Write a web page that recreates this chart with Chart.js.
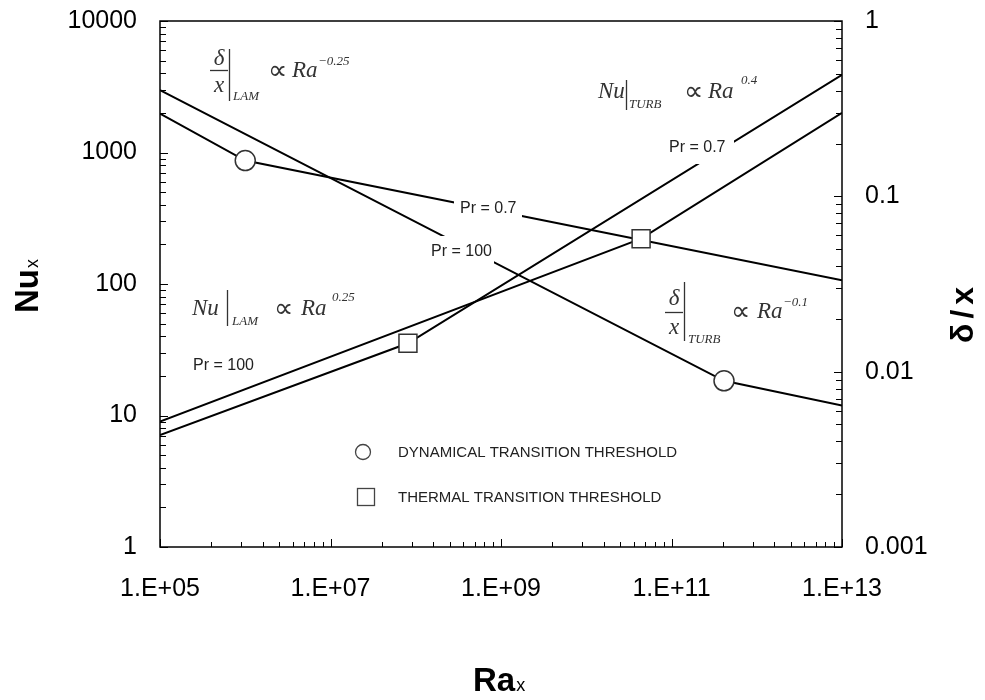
<!DOCTYPE html>
<html>
<head>
<meta charset="utf-8">
<script src="https://cdn.jsdelivr.net/npm/chart.js@4.4.1/dist/chart.umd.min.js"></script>
<style>
  html, body { margin: 0; padding: 0; background: #fff; }
</style>
</head>
<body>
<canvas id="chart" width="985" height="700"></canvas>
<script>
// Nu_x curves: start, thermal transition, end
const raNuPr100 = [1e5, 4.4e10, 1e13];
const nuPr100 = [9.0, 221, 2000];
const raNuPr07 = [1e5, 8.1e7, 1e13];
const nuPr07 = [7.1, 35.4, 3900];

// delta/x curves: start, dynamical transition, end
const raDeltaPr07 = [1e5, 1.0e6, 1e13];
const deltaPr07 = [0.2965, 0.160, 0.0332];
const raDeltaPr100 = [1e5, 4.13e11, 1e13];
const deltaPr100 = [0.403, 0.00887, 0.00641];

// transition thresholds = middle point of each curve
const thermalRa = [raNuPr07[1], raNuPr100[1]];
const thermalNu = [nuPr07[1], nuPr100[1]];
const dynamicalRa = [raDeltaPr07[1], raDeltaPr100[1]];
const dynamicalDelta = [deltaPr07[1], deltaPr100[1]];

const xTicks = [1e5, 1e7, 1e9, 1e11, 1e13];
const xTickLabels = ['1.E+05', '1.E+07', '1.E+09', '1.E+11', '1.E+13'];
const nuTicks = [1, 10, 100, 1000, 10000];
const nuTickLabels = ['1', '10', '100', '1000', '10000'];
const deltaTicks = [0.001, 0.01, 0.1, 1];
const deltaTickLabels = ['0.001', '0.01', '0.1', '1'];

const SANS = '"Liberation Sans", Arial, sans-serif';
const SERIF = '"Liberation Serif", "Times New Roman", serif';
const INK = '#333';

function pts(xs, ys) {
  return xs.map((x, i) => ({ x: x, y: ys[i] }));
}

const lineStyle = {
  borderColor: '#000', borderWidth: 2, pointRadius: 0,
  fill: false, tension: 0, order: 2
};

// inward tick marks and the box round the plot
const framePlugin = {
  id: 'frame',
  afterDatasetsDraw(chart) {
    const ctx = chart.ctx;
    const a = chart.chartArea;
    const sx = chart.scales.x, sy = chart.scales.y, sy2 = chart.scales.y2;
    ctx.save();
    ctx.strokeStyle = '#000';
    ctx.lineWidth = 1;
    ctx.beginPath();
    // x axis: a major every two decades, eight minors in between
    for (let i = 0; i < xTicks.length; i++) {
      const px = Math.round(sx.getPixelForValue(xTicks[i])) + 0.5;
      ctx.moveTo(px, a.bottom); ctx.lineTo(px, a.bottom - 8);
      if (i < xTicks.length - 1) {
        for (let k = 2; k <= 9; k++) {
          const m = Math.round(sx.getPixelForValue(xTicks[i] * k * k)) + 0.5;
          ctx.moveTo(m, a.bottom); ctx.lineTo(m, a.bottom - 5);
        }
      }
    }
    // y axes: decades with 2..9 minors
    [[sy, nuTicks, a.left, 1], [sy2, deltaTicks, a.right, -1]].forEach(([s, t, edge, dir]) => {
      for (let i = 0; i < t.length; i++) {
        const py = Math.round(s.getPixelForValue(t[i])) + 0.5;
        ctx.moveTo(edge, py); ctx.lineTo(edge + dir * 8, py);
        if (i < t.length - 1) {
          for (let k = 2; k <= 9; k++) {
            const m = Math.round(s.getPixelForValue(t[i] * k)) + 0.5;
            ctx.moveTo(edge, m); ctx.lineTo(edge + dir * 6, m);
          }
        }
      }
    });
    ctx.stroke();
    ctx.lineWidth = 1.5;
    ctx.strokeRect(a.left, a.top, a.right - a.left, a.bottom - a.top);
    ctx.restore();
  }
};

function put(ctx, s, x, y, font, align) {
  ctx.font = font;
  ctx.textAlign = align || 'left';
  ctx.fillText(s, x, y);
}

function vbar(ctx, x, y0, y1) {
  ctx.beginPath(); ctx.moveTo(x, y0); ctx.lineTo(x, y1); ctx.stroke();
}

function hbar(ctx, x0, x1, y) {
  ctx.beginPath(); ctx.moveTo(x0, y); ctx.lineTo(x1, y); ctx.stroke();
}

// formulas, Pr labels, legend and axis titles
const notesPlugin = {
  id: 'notes',
  afterDraw(chart) {
    const ctx = chart.ctx;
    ctx.save();
    ctx.textBaseline = 'alphabetic';
    ctx.fillStyle = INK;
    ctx.strokeStyle = INK;
    ctx.lineWidth = 1.3;
    const big = 'italic 23px ' + SERIF;
    const small = 'italic 13px ' + SERIF;
    const prop = '27px ' + SERIF;

    // delta/x |LAM ~ Ra^-0.25
    put(ctx, 'δ', 219, 65, big, 'center');
    hbar(ctx, 210, 228, 70.5);
    put(ctx, 'x', 219, 92, big, 'center');
    vbar(ctx, 229.5, 49, 101);
    put(ctx, 'LAM', 233, 100, small);
    put(ctx, '∝', 268, 79, prop);
    put(ctx, 'Ra', 292, 77, big);
    put(ctx, '−0.25', 318, 65, small);

    // Nu |TURB ~ Ra^0.4
    put(ctx, 'Nu', 598, 98, big);
    vbar(ctx, 626.5, 80, 110);
    put(ctx, 'TURB', 629, 108, small);
    put(ctx, '∝', 684, 100, prop);
    put(ctx, 'Ra', 708, 98, big);
    put(ctx, '0.4', 741, 84, small);

    // Nu |LAM ~ Ra^0.25
    put(ctx, 'Nu', 192, 315, big);
    vbar(ctx, 227.5, 290, 326);
    put(ctx, 'LAM', 232, 325, small);
    put(ctx, '∝', 274, 317, prop);
    put(ctx, 'Ra', 301, 315, big);
    put(ctx, '0.25', 332, 301, small);

    // delta/x |TURB ~ Ra^-0.1
    put(ctx, 'δ', 674, 305, big, 'center');
    hbar(ctx, 665, 683, 312.5);
    put(ctx, 'x', 674, 334, big, 'center');
    vbar(ctx, 684.5, 282, 341);
    put(ctx, 'TURB', 688, 343, small);
    put(ctx, '∝', 731, 320, prop);
    put(ctx, 'Ra', 757, 318, big);
    put(ctx, '−0.1', 783, 306, small);

    // Pr labels, the ones sitting on a line clear it with a white box
    const prFont = '16px ' + SANS;
    [
      ['Pr = 0.7', 460, 213, [454, 195, 68, 25]],
      ['Pr = 100', 431, 256, [430, 236, 64, 28]],
      ['Pr = 0.7', 669, 152, [666, 137, 68, 27]],
      ['Pr = 100', 193, 370, null]
    ].forEach(([s, x, y, box]) => {
      if (box) {
        ctx.fillStyle = '#fff';
        ctx.fillRect(box[0], box[1], box[2], box[3]);
      }
      ctx.fillStyle = '#222';
      put(ctx, s, x, y, prFont);
    });

    // legend
    ctx.strokeStyle = '#444';
    ctx.lineWidth = 1.3;
    ctx.fillStyle = '#fff';
    ctx.beginPath(); ctx.arc(363, 452, 7.5, 0, Math.PI * 2); ctx.fill(); ctx.stroke();
    ctx.fillRect(357.5, 488.5, 17, 17); ctx.strokeRect(357.5, 488.5, 17, 17);
    ctx.fillStyle = '#222';
    put(ctx, 'DYNAMICAL TRANSITION THRESHOLD', 398, 457, '15px ' + SANS);
    put(ctx, 'THERMAL TRANSITION THRESHOLD', 398, 502, '15px ' + SANS);

    // axis titles
    ctx.fillStyle = '#000';
    const tBig = 'bold 33px ' + SANS;
    const tSub = '18px ' + SANS;
    put(ctx, 'Ra', 473, 691, tBig);
    ctx.font = tBig;
    put(ctx, 'x', 473 + ctx.measureText('Ra').width + 1, 691, tSub);

    ctx.save();
    ctx.translate(38, 313);
    ctx.rotate(-Math.PI / 2);
    put(ctx, 'Nu', 0, 0, tBig);
    ctx.font = tBig;
    put(ctx, 'x', ctx.measureText('Nu').width + 1, 0, tSub);
    ctx.restore();

    ctx.save();
    ctx.translate(973, 343);
    ctx.rotate(-Math.PI / 2);
    ctx.font = 'bold 32px ' + SANS;
    let off = 0;
    ['δ', '/', 'x'].forEach(s => {
      put(ctx, s, off, 0, 'bold 32px ' + SANS);
      off += ctx.measureText(s).width + 5;
    });
    ctx.restore();

    ctx.restore();
  }
};

const tickFont = { family: SANS, size: 25 };

// keep the tick-label overhang out of the layout so the plot box lands where it should
function fixPad(s) {
  s.paddingTop = 0; s.paddingBottom = 0; s.paddingLeft = 0; s.paddingRight = 0;
}

new Chart(document.getElementById('chart'), {
  type: 'line',
  data: {
    datasets: [
      { ...lineStyle, label: 'Nu Pr = 100', data: pts(raNuPr100, nuPr100), yAxisID: 'y' },
      { ...lineStyle, label: 'Nu Pr = 0.7', data: pts(raNuPr07, nuPr07), yAxisID: 'y' },
      { ...lineStyle, label: 'delta/x Pr = 0.7', data: pts(raDeltaPr07, deltaPr07), yAxisID: 'y2' },
      { ...lineStyle, label: 'delta/x Pr = 100', data: pts(raDeltaPr100, deltaPr100), yAxisID: 'y2' },
      {
        label: 'THERMAL TRANSITION THRESHOLD', data: pts(thermalRa, thermalNu), yAxisID: 'y',
        showLine: false, pointStyle: 'rect', pointRadius: 12.7,
        pointBackgroundColor: '#fff', pointBorderColor: '#333', pointBorderWidth: 1.5, order: 0
      },
      {
        label: 'DYNAMICAL TRANSITION THRESHOLD', data: pts(dynamicalRa, dynamicalDelta), yAxisID: 'y2',
        showLine: false, pointStyle: 'circle', pointRadius: 10,
        pointBackgroundColor: '#fff', pointBorderColor: '#333', pointBorderWidth: 1.5, order: 0
      }
    ]
  },
  options: {
    responsive: false,
    animation: false,
    events: [],
    layout: { padding: { top: 21, left: 0, right: 0, bottom: 0 } },
    plugins: { legend: { display: false }, tooltip: { enabled: false } },
    scales: {
      x: {
        type: 'logarithmic', min: 1e5, max: 1e13,
        afterBuildTicks: s => { s.ticks = xTicks.map(v => ({ value: v })); },
        afterFit: s => { s.height = 153; fixPad(s); },
        ticks: {
          font: tickFont, color: '#000', padding: 27, maxRotation: 0, autoSkip: false,
          callback: (v, i) => xTickLabels[i]
        },
        grid: { display: false, drawTicks: false },
        border: { display: false }
      },
      y: {
        type: 'logarithmic', position: 'left', min: 1, max: 10000,
        afterBuildTicks: s => { s.ticks = nuTicks.map(v => ({ value: v })); },
        afterFit: s => { s.width = 160; fixPad(s); },
        ticks: { font: tickFont, color: '#000', padding: 23, autoSkip: false, callback: (v, i) => nuTickLabels[i] },
        grid: { display: false, drawTicks: false },
        border: { display: false }
      },
      y2: {
        type: 'logarithmic', position: 'right', min: 0.001, max: 1,
        afterBuildTicks: s => { s.ticks = deltaTicks.map(v => ({ value: v })); },
        afterFit: s => { s.width = 143; fixPad(s); },
        ticks: { font: tickFont, color: '#000', padding: 23, autoSkip: false, callback: (v, i) => deltaTickLabels[i] },
        grid: { display: false, drawTicks: false },
        border: { display: false }
      }
    }
  },
  plugins: [framePlugin, notesPlugin]
});
</script>
</body>
</html>
